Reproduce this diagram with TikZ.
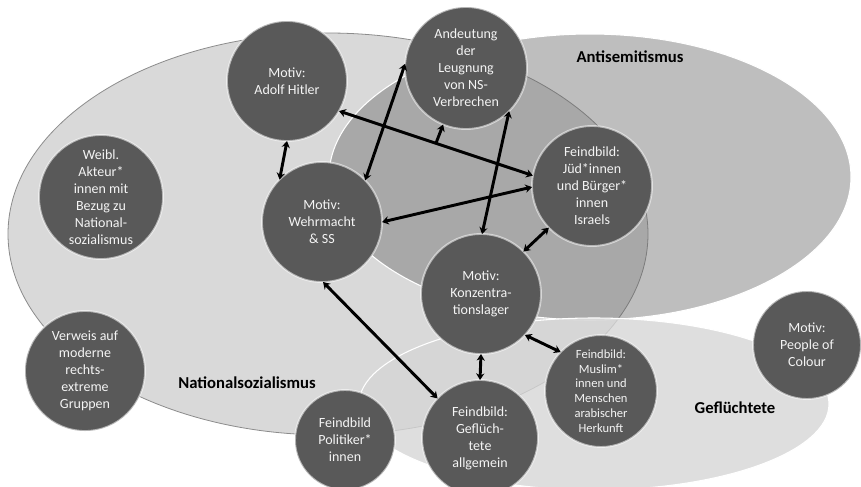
\documentclass[tikz,border=0pt]{standalone}
\usepackage{fontspec}
\setmainfont{Carlito}
\usetikzlibrary{arrows.meta}
\definecolor{nsfill}{HTML}{D9D9D9}
\definecolor{nsedge}{HTML}{8C8C8C}
\definecolor{antifill}{HTML}{666666}
\definecolor{geffill}{HTML}{D6D6D6}
\definecolor{bubfill}{HTML}{595959}
\definecolor{bubtext}{HTML}{F4F4F4}
\begin{document}
\begin{tikzpicture}[x=0.75pt,y=-0.75pt,
  bub/.style={circle,fill=bubfill,draw=white,draw opacity=0.55,line width=1.4pt,
    inner sep=0pt,outer sep=0pt,text=bubtext,align=center,
    font=\fontsize{10.5}{12.75}\selectfont},
  smallbub/.style={bub,font=\fontsize{9.4}{11.1}\selectfont},
  lbl/.style={font=\fontsize{12.5}{15}\selectfont\bfseries,text=black},
  link/.style={{Stealth[length=5pt,width=6.2pt]}-{Stealth[length=5pt,width=6.2pt]},line width=2.2pt,black},
  onelink/.style={-{Stealth[length=5pt,width=6.2pt]},line width=2.2pt,black}]
\useasboundingbox (0,0) rectangle (861,486);
\fill[white] (0,0) rectangle (861,486);
% sets
\filldraw[fill=nsfill,draw=nsedge,line width=0.6pt] (328,234) ellipse [x radius=240pt,y radius=150.75pt];
\filldraw[fill=antifill,fill opacity=0.42,draw=white,line width=0.8pt] (590,177) ellipse [x radius=195.75pt,y radius=107.25pt];
\filldraw[fill=geffill,fill opacity=0.8,draw=white,line width=0.8pt] (594,404) ellipse [x radius=176.25pt,y radius=64.5pt];
% set labels
\node[lbl] (lanti) at (630,57) {Antisemitismus};
\node[lbl] (lns) at (247,383) {Nationalsozialismus};
\node[lbl] (lgef) at (735,408) {Geflüchtete};
% bubbles
\node[bub,minimum size=90pt] (hitler) at (287,81) {Motiv:\\Adolf Hitler};
\node[bub,minimum size=91.5pt] (andeut) at (466,68) {Andeutung\\der\\Leugnung\\von NS-\\Verbrechen};
\node[bub,minimum size=93pt] (weibl) at (101,197) {Weibl.\\Akteur*\\innen mit\\Bezug zu\\National-\\sozialismus};
\node[bub,minimum size=90pt] (wehr) at (322,222) {Motiv:\\Wehrmacht\\\& SS};
\node[bub,minimum size=90pt] (jud) at (592,186) {Feindbild:\\Jüd*innen\\und Bürger*\\innen\\Israels};
\node[bub,minimum size=90pt] (kz) at (481,294) {Motiv:\\Konzentra-\\tionslager};
\node[smallbub,minimum size=84pt] (muslim) at (601,391) {Feindbild:\\Muslim*\\innen und\\Menschen\\arabischer\\Herkunft};
\node[bub,minimum size=87pt] (gefl) at (480,438) {Feindbild:\\Geflüch-\\tete\\allgemein};
\node[bub,minimum size=75pt] (polit) at (345,440) {Feindbild\\Politiker*\\innen};
\node[bub,minimum size=90pt] (verweis) at (85,371) {Verweis auf\\moderne\\rechts-\\extreme\\Gruppen};
\node[bub,minimum size=81pt] (poc) at (807,345) {Motiv:\\People of\\Colour};
% connectors
\draw[link] (hitler.-90) -- (wehr.135);
\draw[link] (andeut.176) -- (wehr.44);
\draw[link] (hitler.-30) -- coordinate[pos=0.5] (mid) (jud.170);
\draw[onelink] (mid) -- (andeut.-112);
\draw[link] (wehr.0) -- (jud.181);
\draw[link] (andeut.-45) -- (kz.89);
\draw[link] (jud.-136) -- (kz.45);
\draw[link] (wehr.-89) -- (gefl.137);
\draw[link] (kz.-90) -- (gefl.90);
\draw[link] (kz.-43) -- (muslim.136);
\end{tikzpicture}
\end{document}
